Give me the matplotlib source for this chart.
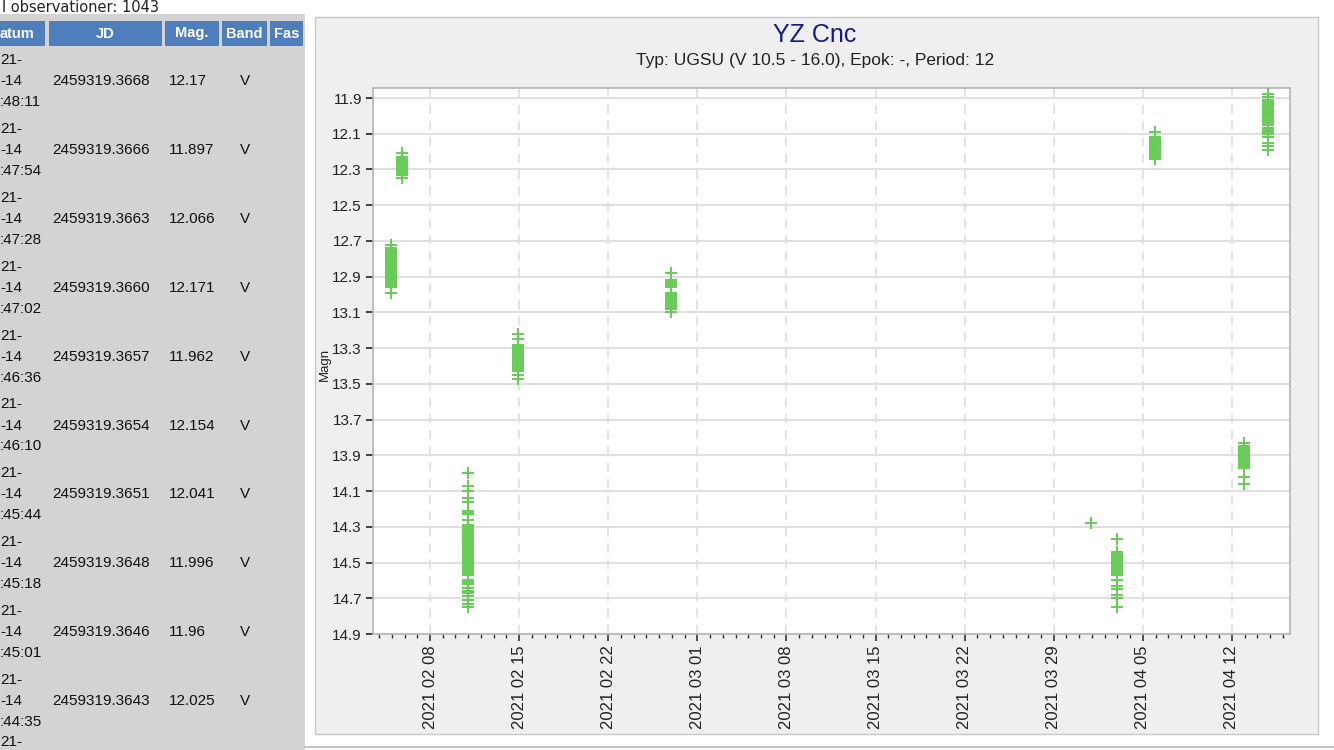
import matplotlib
matplotlib.use('Agg')
import matplotlib.pyplot as plt
import matplotlib.dates as mdates
from matplotlib.patches import Rectangle
from datetime import datetime

plt.rcParams['font.family'] = ['Liberation Sans', 'DejaVu Sans']

# --- YZ Cnc, V-band observations grouped by night ---
night_times = ["2021-02-04 22:30", "2021-02-05 19:10", "2021-02-10 23:30",
               "2021-02-14 21:30", "2021-02-26 22:20", "2021-03-31 21:40",
               "2021-04-02 23:00", "2021-04-05 22:30", "2021-04-12 22:30",
               "2021-04-14 20:45"]

mags_0204 = [12.72, 12.74, 12.75, 12.76, 12.77, 12.78, 12.79, 12.80, 12.81, 12.82,
             12.83, 12.84, 12.85, 12.86, 12.87, 12.88, 12.89, 12.90, 12.91, 12.92,
             12.93, 12.94, 12.95, 12.96, 12.99]
mags_0205 = [12.21, 12.23, 12.24, 12.25, 12.26, 12.27, 12.28, 12.29, 12.30, 12.31,
             12.32, 12.33, 12.35]
mags_0210 = [14.00, 14.07, 14.10, 14.14, 14.16, 14.21, 14.22, 14.23, 14.26, 14.29,
             14.30, 14.31, 14.32, 14.33, 14.34, 14.35, 14.36, 14.37, 14.38, 14.39,
             14.40, 14.41, 14.42, 14.43, 14.44, 14.45, 14.46, 14.47, 14.48, 14.49,
             14.50, 14.51, 14.52, 14.53, 14.54, 14.55, 14.56, 14.57, 14.60, 14.61,
             14.62, 14.64, 14.66, 14.67, 14.69, 14.71, 14.73, 14.75]
mags_0214 = [13.22, 13.25, 13.28, 13.29, 13.30, 13.31, 13.32, 13.33, 13.34, 13.35,
             13.36, 13.37, 13.38, 13.39, 13.40, 13.41, 13.42, 13.43, 13.45, 13.47]
mags_0226 = [12.88, 12.92, 12.93, 12.94, 12.95, 12.96, 12.99, 13.00, 13.01, 13.02,
             13.03, 13.04, 13.05, 13.06, 13.07, 13.08, 13.10]
mags_0331 = [14.28]
mags_0402 = [14.37, 14.44, 14.45, 14.46, 14.47, 14.48, 14.49, 14.50, 14.51, 14.52,
             14.53, 14.54, 14.55, 14.56, 14.57, 14.60, 14.63, 14.65, 14.68, 14.70,
             14.75]
mags_0405 = [12.09, 12.12, 12.13, 12.14, 12.15, 12.16, 12.17, 12.18, 12.19, 12.20,
             12.21, 12.22, 12.23, 12.24]
mags_0412 = [13.83, 13.85, 13.86, 13.87, 13.88, 13.89, 13.90, 13.91, 13.92, 13.93,
             13.94, 13.95, 13.96, 13.97, 14.02, 14.06]
mags_0414 = [11.88, 11.897, 11.91, 11.92, 11.93, 11.94, 11.95, 11.96, 11.962, 11.97,
             11.98, 11.99, 11.996, 12.00, 12.01, 12.025, 12.03, 12.041, 12.05, 12.066,
             12.07, 12.08, 12.09, 12.10, 12.12, 12.154, 12.17, 12.171, 12.19]
night_mags = [mags_0204, mags_0205, mags_0210, mags_0214, mags_0226, mags_0331,
              mags_0402, mags_0405, mags_0412, mags_0414]

# --- table of latest observations (page is scrolled, left part cut off) ---
table_headers = ["atum", "JD", "Mag.", "Band", "Fas"]
table_jd = ["2459319.3668", "2459319.3666", "2459319.3663", "2459319.3660",
            "2459319.3657", "2459319.3654", "2459319.3651", "2459319.3648",
            "2459319.3646", "2459319.3643"]
table_mag = ["12.17", "11.897", "12.066", "12.171", "11.962", "12.154", "12.041",
             "11.996", "11.96", "12.025"]
table_clock = [":48:11", ":47:54", ":47:28", ":47:02", ":46:36", ":46:10", ":45:44",
               ":45:18", ":45:01", ":44:35"]
table_band = "V"

week_ticks = ["2021-02-08", "2021-02-15", "2021-02-22", "2021-03-01", "2021-03-08",
              "2021-03-15", "2021-03-22", "2021-03-29", "2021-04-05", "2021-04-12"]
mag_ticks = [11.9, 12.1, 12.3, 12.5, 12.7, 12.9, 13.1, 13.3, 13.5, 13.7, 13.9,
             14.1, 14.3, 14.5, 14.7, 14.9]

W, H = 1334, 750
fig = plt.figure(figsize=(W / 100, H / 100), dpi=100)
fig.patch.set_facecolor('white')

# page background drawn in pixel units
bg = fig.add_axes([0, 0, 1, 1])
bg.set_xlim(0, W)
bg.set_ylim(H, 0)
bg.axis('off')

bg.text(2, 12, "l observationer: 1043", fontsize=10.5, family='DejaVu Sans',
        color='#222222', va='baseline', ha='left')

bg.add_patch(Rectangle((0, 14), 305, 740, facecolor='#d3d3d3', edgecolor='none'))
col_edges = [(0, 45), (49, 162), (165, 219), (222, 267), (270, 303)]
for (x0, x1), head in zip(col_edges, table_headers):
    bg.add_patch(Rectangle((x0, 21), x1 - x0, 25, facecolor='#4f7ebd', edgecolor='none'))
    if head == "atum":
        bg.text(0, 33.5, head, color='white', fontsize=10.5, fontweight='bold',
                ha='left', va='center')
    else:
        bg.text((x0 + x1) / 2, 33.5, head, color='white', fontsize=10.5,
                fontweight='bold', ha='center', va='center')

for i, (jd, mag, clock) in enumerate(zip(table_jd, table_mag, table_clock)):
    ym = 81 + 68.9 * i
    bg.text(0, ym - 21, "21-", fontsize=11, color='#111111', va='center')
    bg.text(0, ym, "-14", fontsize=11, color='#111111', va='center')
    bg.text(0, ym + 21, clock, fontsize=11, color='#111111', va='center')
    bg.text(52, ym, jd, fontsize=11, color='#111111', va='center')
    bg.text(169, ym, mag, fontsize=11, color='#111111', va='center')
    bg.text(245, ym, table_band, fontsize=11, color='#111111', va='center', ha='center')
bg.text(0, 742, "21-", fontsize=11, color='#111111', va='center')

# chart panel
bg.add_patch(Rectangle((315, 17), 1003, 717, facecolor='#efefef', edgecolor='#c8c8c8', lw=1))
bg.plot([305, W], [747, 747], color='#c4c4c4', lw=1.5)
bg.text(815, 35, "YZ Cnc", fontsize=18, color='#1a1a8e', ha='center', va='center')
bg.text(815, 60, "Typ: UGSU (V 10.5 - 16.0), Epok: -, Period: 12", fontsize=12.5,
        color='#222222', ha='center', va='center')

# --- light curve ---
ax = fig.add_axes([373 / W, 1 - 634 / H, (1290 - 373) / W, (634 - 88) / H])
ax.set_facecolor('white')
for t, mags in zip(night_times, night_mags):
    when = datetime.strptime(t, "%Y-%m-%d %H:%M")
    ax.plot([when] * len(mags), mags, '+', color='#66cc55', markersize=9,
            markeredgewidth=1.4, linestyle='none', zorder=3)

ax.set_xlim(datetime(2021, 2, 3, 12, 30), datetime(2021, 4, 16, 13, 30))
ax.set_ylim(14.9, 11.844)
ax.set_yticks(mag_ticks)
ax.yaxis.set_major_formatter('{x:.1f}')
ax.set_xticks([datetime.strptime(d, "%Y-%m-%d") for d in week_ticks])
ax.xaxis.set_major_formatter(mdates.DateFormatter('%Y %m %d'))
ax.xaxis.set_minor_locator(mdates.DayLocator())

ax.yaxis.grid(True, color='#e0e0e0', linewidth=1.5, zorder=0)
ax.xaxis.grid(True, color='#e0e0e0', linewidth=1.3, linestyle=(0, (5, 4)), zorder=0)
ax.set_axisbelow(True)
for side in ax.spines.values():
    side.set_color('#b5b5b5')
    side.set_linewidth(1.2)

ax.tick_params(axis='y', direction='out', length=5, width=1.3, color='#333333',
               labelsize=11, labelcolor='#222222', pad=3)
ax.tick_params(axis='x', which='major', direction='out', length=5, width=1.2,
               color='#333333', labelsize=12, labelcolor='#222222', rotation=90, pad=3)
ax.tick_params(axis='x', which='minor', direction='out', length=3, width=1.0,
               color='#333333')

ax.set_ylabel("Magn", fontsize=9.5, color='#222222')
ax.yaxis.set_label_coords(-0.046, 0.493)

fig.savefig("out.png", dpi=100)
